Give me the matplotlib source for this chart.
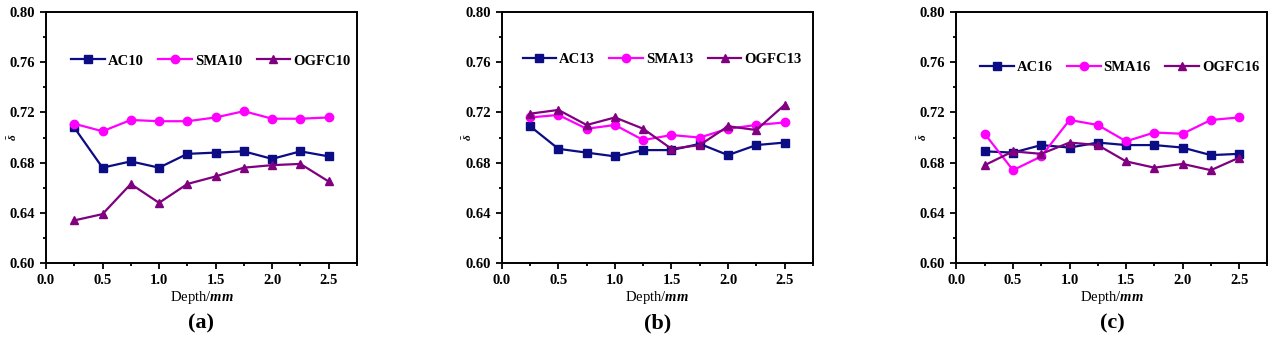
import numpy as np
import matplotlib
matplotlib.use('Agg')
import matplotlib.pyplot as plt
from matplotlib.ticker import MultipleLocator

plt.rcParams['font.family'] = ['Liberation Serif', 'DejaVu Serif']
plt.rcParams['font.weight'] = 'bold'
plt.rcParams['mathtext.fontset'] = 'custom'
plt.rcParams['mathtext.it'] = 'Liberation Serif:italic:bold'
plt.rcParams['mathtext.rm'] = 'Liberation Serif:bold'

# data
depth = [0.25, 0.5, 0.75, 1.0, 1.25, 1.5, 1.75, 2.0, 2.25, 2.5]

ac10 = [0.708, 0.676, 0.681, 0.676, 0.687, 0.688, 0.689, 0.683, 0.689, 0.685]
sma10 = [0.711, 0.705, 0.714, 0.713, 0.713, 0.716, 0.721, 0.715, 0.715, 0.716]
ogfc10 = [0.634, 0.639, 0.663, 0.648, 0.663, 0.669, 0.676, 0.678, 0.679, 0.665]

ac13 = [0.709, 0.691, 0.688, 0.685, 0.690, 0.690, 0.695, 0.686, 0.694, 0.696]
sma13 = [0.716, 0.718, 0.707, 0.710, 0.698, 0.702, 0.700, 0.707, 0.710, 0.712]
ogfc13 = [0.719, 0.722, 0.710, 0.716, 0.707, 0.691, 0.694, 0.709, 0.706, 0.726]

ac16 = [0.689, 0.688, 0.694, 0.692, 0.696, 0.694, 0.694, 0.692, 0.686, 0.687]
sma16 = [0.703, 0.674, 0.685, 0.714, 0.710, 0.697, 0.704, 0.703, 0.714, 0.716]
ogfc16 = [0.678, 0.689, 0.687, 0.696, 0.694, 0.681, 0.676, 0.679, 0.674, 0.684]

panels = [
    ('(a)', ['AC10', 'SMA10', 'OGFC10'], [ac10, sma10, ogfc10]),
    ('(b)', ['AC13', 'SMA13', 'OGFC13'], [ac13, sma13, ogfc13]),
    ('(c)', ['AC16', 'SMA16', 'OGFC16'], [ac16, sma16, ogfc16]),
]
colors = ['#0c0c84', '#ff00ff', '#800080']
markers = ['s', 'o', '^']

fig = plt.figure(figsize=(12.77, 3.43), dpi=100)
lefts = [0.036, 0.393, 0.749]
leg_pos = [(0.53, 0.805), (0.515, 0.81), (0.525, 0.78)]

for i, (cap, names, series) in enumerate(panels):
    ax = fig.add_axes([lefts[i], 0.233, 0.2435, 0.732])
    for name, vals, c, m in zip(names, series, colors, markers):
        ax.plot(depth, vals, color=c, marker=m, markersize=6, linewidth=1.6, label=name)
    ax.set_xlim(0, 2.75)
    ax.set_ylim(0.60, 0.80)
    ax.xaxis.set_major_locator(MultipleLocator(0.5))
    ax.xaxis.set_minor_locator(MultipleLocator(0.25))
    ax.yaxis.set_major_locator(MultipleLocator(0.04))
    ax.yaxis.set_minor_locator(MultipleLocator(0.02))
    ax.xaxis.set_major_formatter(plt.FormatStrFormatter('%.1f'))
    ax.yaxis.set_major_formatter(plt.FormatStrFormatter('%.2f'))
    ax.tick_params(which='both', direction='out', top=False, right=False,
                   width=1.3, labelsize=10.5)
    ax.tick_params(which='major', length=4.5)
    ax.tick_params(which='minor', length=2.5)
    for s in ax.spines.values():
        s.set_linewidth(1.4)
    ax.set_xlabel(r'Depth/$\mathit{mm}$', fontsize=10.5, labelpad=1)
    ax.set_ylabel(r'$\bar{\delta}$', fontsize=8)
    ax.yaxis.set_label_coords(-0.088, 0.5)
    ax.legend(ncol=3, loc='center', bbox_to_anchor=leg_pos[i], frameon=False,
              fontsize=10.5, handlelength=2.3, handletextpad=0.2,
              columnspacing=1.0, borderaxespad=0)
    ax.text(0.5, -0.239, cap, transform=ax.transAxes, ha='center', va='center',
            fontsize=16)

fig.savefig('out.png', dpi=100)
